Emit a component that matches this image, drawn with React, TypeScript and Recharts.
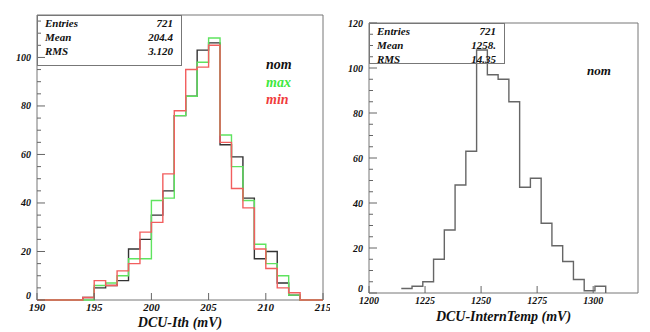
import { ComposedChart, Line, ReferenceArea, XAxis, YAxis } from 'recharts';

// DCU-Ith histogram, 1 mV bins from 190 to 215
const ithBinLow = [
  190, 191, 192, 193, 194, 195, 196, 197, 198, 199, 200, 201, 202, 203, 204, 205, 206, 207, 208, 209, 210,
  211, 212, 213, 214,
];
const ithHigh = 215;
const ithNom = [0, 0, 0, 0, 1, 5, 6, 8, 21, 25, 35, 45, 76, 84, 103, 106, 64, 59, 42, 17, 20, 7, 2, 0, 0];
const ithMax = [0, 0, 0, 0, 0, 6, 7, 10, 17, 17, 41, 42, 76, 84, 98, 108, 68, 55, 41, 23, 15, 10, 2, 0, 0];
const ithMin = [0, 0, 0, 0, 1, 8, 6, 12, 15, 28, 32, 52, 78, 95, 96, 105, 65, 46, 38, 21, 13, 5, 3, 0, 0];
const ithXTicks = [190, 195, 200, 205, 210, 215];
const ithYTicks = [0, 5, 10, 15, 20, 25, 30, 35, 40, 45, 50, 55, 60, 65, 70, 75, 80, 85, 90, 95, 100, 105, 110, 115];

// DCU-InternTemp histogram, 4.8 mV bins (1200..1320 in 25 bins)
const tempBinLow = [
  1214.4, 1219.2, 1224, 1228.8, 1233.6, 1238.4, 1243.2, 1248, 1252.8, 1257.6, 1262.4, 1267.2, 1272, 1276.8,
  1281.6, 1286.4, 1291.2, 1296, 1300.8,
];
const tempHigh = 1305.6;
const tempNom = [2, 3, 5, 15, 28, 48, 63, 108, 97, 95, 85, 47, 51, 31, 21, 14, 6, 1, 3];
const tempXTicks = [1200, 1225, 1250, 1275, 1300];
const tempYTicks = [0, 5, 10, 15, 20, 25, 30, 35, 40, 45, 50, 55, 60, 65, 70, 75, 80, 85, 90, 95, 100, 105, 110, 115, 120];

const ithRows = [
  ...ithBinLow.map((x, i) => ({ x, nom: ithNom[i], max: ithMax[i], min: ithMin[i] })),
  { x: ithHigh, nom: 0, max: 0, min: 0 },
];
const tempRows = [...tempBinLow.map((x, i) => ({ x, nom: tempNom[i] })), { x: tempHigh, nom: 0 }];

const FONT = "'Liberation Serif', 'DejaVu Serif', serif";
const txt = { fontFamily: FONT, fontWeight: 700, fontStyle: 'italic' as const };

function YTick(props: any) {
  const { x, y, payload, fs } = props;
  const major = payload.value % 20 === 0;
  // the zero label sits a little above the x axis, as in the original
  const dy = payload.value === 0 ? -1 : 3.5;
  return (
    <g>
      <line x1={x} x2={x + (major ? 8 : 4)} y1={y} y2={y} stroke="#666" />
      {major && (
        <text x={x - 6} y={y} dy={dy} textAnchor="end" fontSize={fs} fill="#111" style={txt}>
          {payload.value}
        </text>
      )}
    </g>
  );
}

function XTick(props: any) {
  const { x, y, payload, fs } = props;
  return (
    <g>
      <line x1={x} x2={x} y1={y} y2={y - 7} stroke="#666" />
      <text x={x} y={y + 11} textAnchor="middle" fontSize={fs} fill="#111" style={txt}>
        {payload.value}
      </text>
    </g>
  );
}

function StatsBox({ left, top, width, height, rows }: any) {
  return (
    <div
      style={{
        position: 'absolute',
        left,
        top,
        width,
        height,
        border: '1px solid #777',
        boxSizing: 'border-box',
        ...txt,
        fontSize: 11,
        color: '#111',
      }}
    >
      {rows.map((r: string[], i: number) => (
        <div
          key={r[0]}
          style={{ position: 'absolute', left: 7, right: 8, top: 1 + i * 14, display: 'flex', justifyContent: 'space-between' }}
        >
          <span>{r[0]}</span>
          <span>{r[1]}</span>
        </div>
      ))}
    </div>
  );
}

export default function App() {
  return (
    <div style={{ position: 'fixed', left: 0, top: 0, width: 650, height: 332, background: '#fff' }}>
      <div style={{ position: 'absolute', left: 0, top: 0 }}>
        <ComposedChart width={330} height={332} data={ithRows} margin={{ top: 15, right: 7, left: 0, bottom: 0 }}>
          <XAxis
            dataKey="x"
            type="number"
            domain={[190, 215]}
            ticks={ithXTicks}
            interval={0}
            height={32}
            axisLine={false}
            tickLine={false}
            tickSize={0}
            tickMargin={0}
            tick={(p: any) => <XTick {...p} fs={11} />}
            label={{ value: 'DCU-Ith (mV)', position: 'insideBottom', offset: 5, fontSize: 14, fill: '#111', style: txt }}
          />
          <YAxis
            type="number"
            domain={[0, 117.5]}
            ticks={ithYTicks}
            interval={0}
            width={37}
            axisLine={false}
            tickLine={false}
            tickSize={0}
            tickMargin={0}
            tick={(p: any) => <YTick {...p} fs={10} />}
          />
          <ReferenceArea x1={190} x2={215} y1={0} y2={117.5} fill="none" stroke="#777" strokeOpacity={1} />
          <Line type="stepAfter" dataKey="nom" stroke="#333" strokeWidth={1.4} dot={false} isAnimationActive={false} />
          <Line type="stepAfter" dataKey="max" stroke="#5fe35f" strokeWidth={1.4} dot={false} isAnimationActive={false} />
          <Line type="stepAfter" dataKey="min" stroke="#f25e5e" strokeWidth={1.4} dot={false} isAnimationActive={false} />
        </ComposedChart>
      </div>
      <div style={{ position: 'absolute', left: 330, top: 0 }}>
        <ComposedChart width={320} height={332} data={tempRows} margin={{ top: 23, right: 12, left: 0, bottom: 0 }}>
          <XAxis
            dataKey="x"
            type="number"
            domain={[1200, 1320]}
            ticks={tempXTicks}
            interval={0}
            height={39}
            axisLine={false}
            tickLine={false}
            tickSize={0}
            tickMargin={0}
            tick={(p: any) => <XTick {...p} fs={10} />}
            label={{ value: 'DCU-InternTemp (mV)', position: 'insideBottom', offset: 11, fontSize: 14, fill: '#111', style: txt }}
          />
          <YAxis
            type="number"
            domain={[0, 120]}
            ticks={tempYTicks}
            interval={0}
            width={39}
            axisLine={false}
            tickLine={false}
            tickSize={0}
            tickMargin={0}
            tick={(p: any) => <YTick {...p} fs={10} />}
          />
          <ReferenceArea x1={1200} x2={1320} y1={0} y2={120} fill="none" stroke="#777" strokeOpacity={1} />
          <Line type="stepAfter" dataKey="nom" stroke="#666" strokeWidth={1.4} dot={false} isAnimationActive={false} />
        </ComposedChart>
      </div>
      <StatsBox
        left={37}
        top={15}
        width={145}
        height={51}
        rows={[
          ['Entries', '721'],
          ['Mean', '204.4'],
          ['RMS', '3.120'],
        ]}
      />
      <StatsBox
        left={369}
        top={23}
        width={136}
        height={41}
        rows={[
          ['Entries', '721'],
          ['Mean', '1258.'],
          ['RMS', '14.35'],
        ]}
      />
      <div style={{ position: 'absolute', left: 266, top: 56, ...txt, fontSize: 14, lineHeight: '17.5px' }}>
        <div style={{ color: '#111' }}>nom</div>
        <div style={{ color: '#3ee83e' }}>max</div>
        <div style={{ color: '#f03c3c' }}>min</div>
      </div>
      <div style={{ position: 'absolute', left: 587, top: 63, ...txt, fontSize: 13, color: '#111' }}>nom</div>
    </div>
  );
}
